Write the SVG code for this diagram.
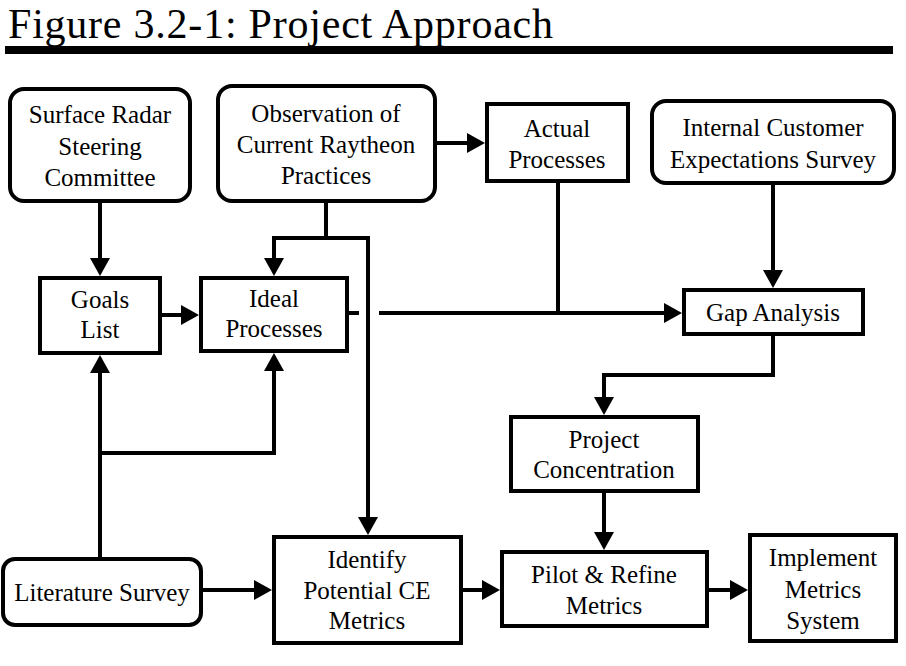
<svg xmlns="http://www.w3.org/2000/svg" width="906" height="666" viewBox="0 0 906 666">
<style>
.box{fill:#fff;stroke:#000;stroke-width:4}
.ln{fill:none;stroke:#000;stroke-width:4}
.arr{marker-end:url(#ah)}
text{font-family:"Liberation Serif","Times New Roman",serif;fill:#000}
.t{font-size:25px;text-anchor:middle}
</style>
<defs>
<marker id="ah" markerUnits="userSpaceOnUse" markerWidth="18" markerHeight="20" refX="6" refY="10" orient="auto">
<path d="M0,0 L18,10 L0,20 z" fill="#000"/>
</marker>
</defs>
<rect width="906" height="666" fill="#fff"/>
<text x="8" y="37.5" font-size="42" textLength="545" lengthAdjust="spacing">Figure 3.2-1: Project Approach</text>
<rect x="5" y="46" width="888" height="8" fill="#000"/>

<g id="connectors">
<path class="ln arr" d="M100,201 V264"/>
<path class="ln arr" d="M326,201 V238 H274 V264"/>
<path class="ln arr" d="M326,238 H368 V523"/>
<path class="ln arr" d="M160,315 H187"/>
<path class="ln arr" d="M435,143 H473"/>
<path class="ln" d="M347,313 H359"/>
<path class="ln arr" d="M379,313 H670"/>
<path class="ln" d="M558,181 V313"/>
<path class="ln arr" d="M773,183 V276"/>
<path class="ln arr" d="M773,334 V375 H604 V403"/>
<path class="ln arr" d="M604,491 V538"/>
<path class="ln arr" d="M707,590 H736"/>
<path class="ln arr" d="M461,590 H488"/>
<path class="ln arr" d="M201,590 H260"/>
<path class="ln arr" d="M100,559 V367"/>
<path class="ln arr" d="M100,453 H274 V365"/>
</g>

<g id="surface-radar">
<rect class="box" x="10" y="89" width="180" height="112" rx="14"/>
<text class="t" x="100" y="123">Surface Radar</text>
<text class="t" x="100" y="155">Steering</text>
<text class="t" x="100" y="186">Committee</text>
</g>
<g id="observation">
<rect class="box" x="218" y="86" width="217" height="115" rx="14"/>
<text class="t" x="326" y="122">Observation of</text>
<text class="t" x="326" y="153">Current Raytheon</text>
<text class="t" x="326" y="184">Practices</text>
</g>
<g id="actual-processes">
<rect class="box" x="487" y="104" width="141" height="77"/>
<text class="t" x="557" y="137">Actual</text>
<text class="t" x="557" y="168">Processes</text>
</g>
<g id="internal-survey">
<rect class="box" x="652" y="101" width="242" height="82" rx="14"/>
<text class="t" x="773" y="136">Internal Customer</text>
<text class="t" x="773" y="168">Expectations Survey</text>
</g>
<g id="goals-list">
<rect class="box" x="40" y="278" width="120" height="75"/>
<text class="t" x="100" y="308">Goals</text>
<text class="t" x="100" y="338">List</text>
</g>
<g id="ideal-processes">
<rect class="box" x="201" y="278" width="146" height="73"/>
<text class="t" x="274" y="307">Ideal</text>
<text class="t" x="274" y="337">Processes</text>
</g>
<g id="gap-analysis">
<rect class="box" x="684" y="290" width="179" height="44"/>
<text class="t" x="773" y="321">Gap Analysis</text>
</g>
<g id="project-concentration">
<rect class="box" x="511" y="417" width="187" height="74"/>
<text class="t" x="604" y="448">Project</text>
<text class="t" x="604" y="478">Concentration</text>
</g>
<g id="literature-survey">
<rect class="box" x="3" y="559" width="198" height="66" rx="12"/>
<text class="t" x="102" y="601">Literature Survey</text>
</g>
<g id="identify-metrics">
<rect class="box" x="274" y="537" width="187" height="106"/>
<text class="t" x="367" y="568">Identify</text>
<text class="t" x="367" y="599">Potential CE</text>
<text class="t" x="367" y="629">Metrics</text>
</g>
<g id="pilot-refine">
<rect class="box" x="502" y="552" width="205" height="74"/>
<text class="t" x="604" y="583">Pilot &amp; Refine</text>
<text class="t" x="604" y="614">Metrics</text>
</g>
<g id="implement-metrics">
<rect class="box" x="750" y="535" width="146" height="106"/>
<text class="t" x="823" y="566">Implement</text>
<text class="t" x="823" y="598">Metrics</text>
<text class="t" x="823" y="629">System</text>
</g>
</svg>
